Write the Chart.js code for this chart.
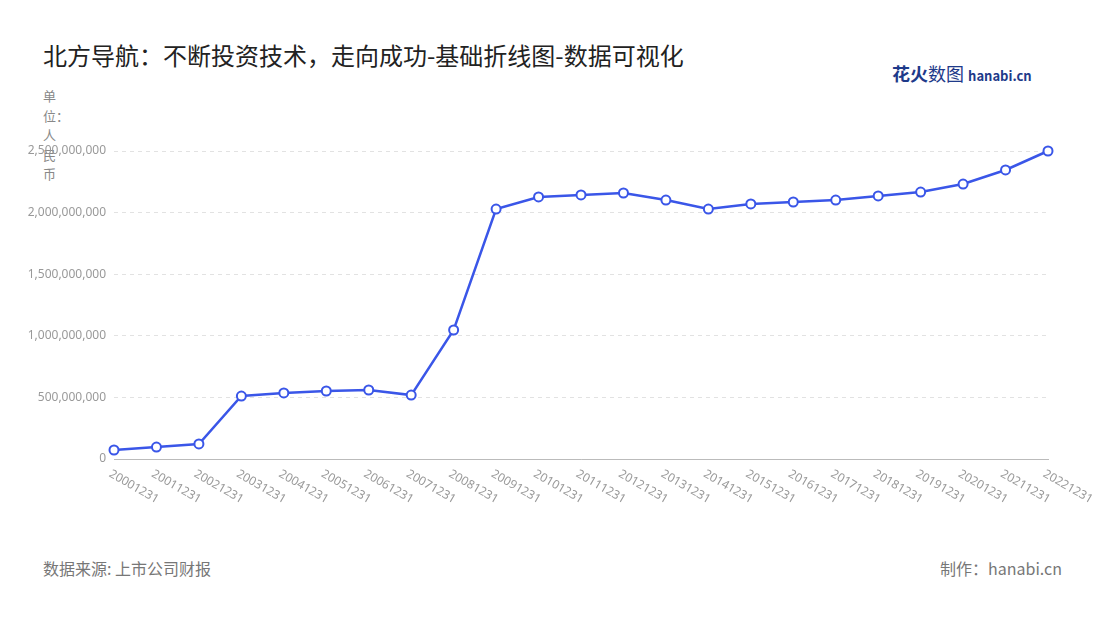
<!DOCTYPE html><html><head><meta charset="utf-8">
<script src="https://cdn.jsdelivr.net/npm/chart.js@4"></script>
<style>body{margin:0;width:1100px;height:620px;background:#fff;font-family:"Noto Sans CJK SC","Noto Sans",sans-serif;position:relative;overflow:hidden}
#c{position:absolute;left:0;top:0}
.t{position:absolute;white-space:nowrap}
</style></head><body>
<div class="t" style="left:43px;top:37px;font-size:24px;color:#222">北方导航：不断投资技术，走向成功-基础折线图-数据可视化</div>
<div class="t" style="left:892px;top:60px;font-size:18px;font-weight:bold;color:#1e3a8a">花火<span style="font-weight:normal">数图</span> <span style="font-size:13px;color:#1e3a8a">hanabi.cn</span></div>
<div class="t" style="left:43px;top:556px;font-size:16px;color:#777">数据来源: 上市公司财报</div>
<div class="t" style="left:940px;top:556px;font-size:16px;color:#777">制作：hanabi.cn</div>
<div class="t" style="left:43px;top:86px;font-size:13px;color:#888;line-height:19.5px;width:13px;white-space:normal;word-break:break-all">单位：人民币</div>
<canvas id="c" width="1100" height="620"></canvas>
<script>
const categories=["20001231","20011231","20021231","20031231","20041231","20051231","20061231","20071231","20081231","20091231","20101231","20111231","20121231","20131231","20141231","20151231","20161231","20171231","20181231","20191231","20201231","20211231","20221231"];
const values=[73e6,97e6,122e6,511e6,536e6,552e6,560e6,519e6,1047e6,2029e6,2127e6,2143e6,2159e6,2102e6,2029e6,2070e6,2086e6,2102e6,2135e6,2167e6,2232e6,2346e6,2500e6];
const yTicks=[0,500e6,1000e6,1500e6,2000e6,2500e6];
const xlab={id:'xlab',afterDraw(c){const s=c.scales.x,ctx=c.ctx;ctx.save();ctx.font='12px "Noto Sans"';ctx.fillStyle='#999';ctx.textBaseline='middle';
categories.forEach((l,i)=>{const x=s.getPixelForTick(i);ctx.save();ctx.translate(x-4,s.top+14);ctx.rotate(Math.PI/6);ctx.fillText(l,0,0);ctx.restore();});ctx.restore();}};
new Chart(document.getElementById('c'),{type:'line',data:{labels:categories,datasets:[{data:values,clip:false,borderColor:'#3a56e8',borderWidth:2.5,pointRadius:4.5,pointBackgroundColor:'#fff',pointBorderColor:'#3a56e8',pointBorderWidth:2,tension:0}]},
options:{responsive:false,animation:false,layout:{padding:{top:151,right:52,left:0,bottom:0}},plugins:{legend:{display:false},tooltip:{enabled:false}},
scales:{x:{offset:false,afterFit(s){s.height=161},grid:{display:false,drawTicks:true,tickLength:6,color:'#bbb'},border:{color:'#bbb'},ticks:{display:false}},
y:{min:0,max:2500e6,afterFit(s){s.width=114},afterBuildTicks(s){s.ticks=yTicks.map(v=>({value:v}))},grid:{color:'#e2e2e2',tickLength:0,drawTicks:false},border:{display:false,dash:[4,4]},
ticks:{color:'#999',font:{size:12,family:'Noto Sans'},padding:8,callback:v=>v.toLocaleString('en-US')}}}},plugins:[xlab]});
</script></body></html>
